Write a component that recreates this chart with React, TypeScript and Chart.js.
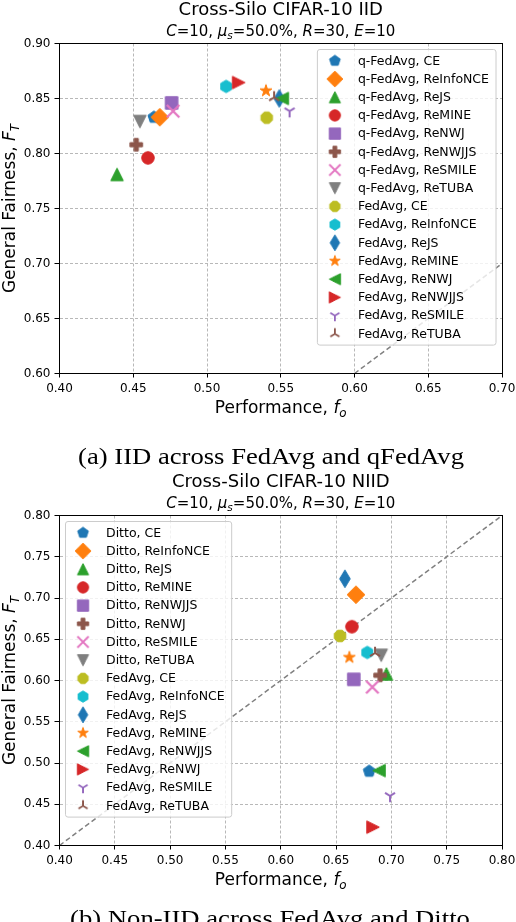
import React, { useEffect, useRef } from 'react';
import { Chart, registerables } from 'chart.js';

Chart.register(...registerables);

const SANS = '"DejaVu Sans", "Noto Sans", sans-serif';
const SERIF = '"Liberation Serif", "DejaVu Serif", serif';

// ---------------- data: panel (a) IID ----------------
const iidLabels = [
  'q-FedAvg, CE', 'q-FedAvg, ReInfoNCE', 'q-FedAvg, ReJS', 'q-FedAvg, ReMINE',
  'q-FedAvg, ReNWJ', 'q-FedAvg, ReNWJJS', 'q-FedAvg, ReSMILE', 'q-FedAvg, ReTUBA',
  'FedAvg, CE', 'FedAvg, ReInfoNCE', 'FedAvg, ReJS', 'FedAvg, ReMINE',
  'FedAvg, ReNWJ', 'FedAvg, ReNWJJS', 'FedAvg, ReSMILE', 'FedAvg, ReTUBA',
];
const iidPerformance = [0.464, 0.468, 0.439, 0.460, 0.476, 0.452, 0.477, 0.4545, 0.5405, 0.513, 0.549, 0.540, 0.551, 0.5215, 0.556, 0.5455];
const iidFairness = [0.833, 0.833, 0.781, 0.796, 0.846, 0.808, 0.8385, 0.829, 0.8325, 0.861, 0.850, 0.857, 0.850, 0.8645, 0.8385, 0.851];
const iidXTicks = [0.40, 0.45, 0.50, 0.55, 0.60, 0.65, 0.70];
const iidYTicks = [0.60, 0.65, 0.70, 0.75, 0.80, 0.85, 0.90];

// ---------------- data: panel (b) NIID ----------------
const niidLabels = [
  'Ditto, CE', 'Ditto, ReInfoNCE', 'Ditto, ReJS', 'Ditto, ReMINE',
  'Ditto, ReNWJJS', 'Ditto, ReNWJ', 'Ditto, ReSMILE', 'Ditto, ReTUBA',
  'FedAvg, CE', 'FedAvg, ReInfoNCE', 'FedAvg, ReJS', 'FedAvg, ReMINE',
  'FedAvg, ReNWJJS', 'FedAvg, ReNWJ', 'FedAvg, ReSMILE', 'FedAvg, ReTUBA',
];
const niidPerformance = [0.680, 0.668, 0.6955, 0.6643, 0.666, 0.6898, 0.6828, 0.6908, 0.6536, 0.6782, 0.658, 0.662, 0.6888, 0.6834, 0.6988, 0.6852];
const niidFairness = [0.490, 0.704, 0.608, 0.6652, 0.6014, 0.6063, 0.592, 0.6305, 0.654, 0.634, 0.7233, 0.628, 0.4908, 0.4222, 0.4601, 0.6334];
const niidXTicks = [0.40, 0.45, 0.50, 0.55, 0.60, 0.65, 0.70, 0.75, 0.80];
const niidYTicks = [0.40, 0.45, 0.50, 0.55, 0.60, 0.65, 0.70, 0.75, 0.80];

// marker shapes (matplotlib style codes) and colours, shared by both panels
const markerKinds = ['p', 'D', '^', 'o', 's', 'P', 'x', 'v', '8', 'h', 'd', '*', '<', '>', '1', '2'];
const markerColors = [
  '#1f77b4', '#ff7f0e', '#2ca02c', '#d62728', '#9467bd', '#8c564b', '#e377c2', '#7f7f7f',
  '#bcbd22', '#17becf', '#1f77b4', '#ff7f0e', '#2ca02c', '#d62728', '#9467bd', '#8c564b',
];

// ---------------- layout constants ----------------
const AREA_LEFT = 59.5;
const AREA_TOP = 43.5;
const AREA_BOTTOM = 373.5;
const AREA_RIGHT_PAD = 14;

function makeMarker(kind: string, color: string, s = 12.5): HTMLCanvasElement {
  const size = 26;
  const c = document.createElement('canvas');
  c.width = size;
  c.height = size;
  const ctx = c.getContext('2d')!;
  const cx = size / 2;
  const cy = size / 2;
  const r = s / 2;
  ctx.fillStyle = color;
  ctx.strokeStyle = color;
  ctx.lineWidth = 1;
  ctx.lineJoin = 'round';
  const poly = (pts: number[][]) => {
    ctx.beginPath();
    pts.forEach(([x, y], i) => (i ? ctx.lineTo(cx + x, cy - y) : ctx.moveTo(cx + x, cy - y)));
    ctx.closePath();
    ctx.fill();
    ctx.stroke();
  };
  const regular = (n: number, rad: number, startDeg: number) => {
    const pts: number[][] = [];
    for (let i = 0; i < n; i++) {
      const a = ((startDeg + (360 * i) / n) * Math.PI) / 180;
      pts.push([rad * Math.cos(a), rad * Math.sin(a)]);
    }
    return pts;
  };
  const lines = (segs: number[][], w: number) => {
    ctx.lineWidth = w;
    ctx.lineCap = 'butt';
    ctx.beginPath();
    segs.forEach(([x1, y1, x2, y2]) => {
      ctx.moveTo(cx + x1, cy - y1);
      ctx.lineTo(cx + x2, cy - y2);
    });
    ctx.stroke();
  };
  const d = r * Math.SQRT2;
  const u = r / 3;
  switch (kind) {
    case 'o':
      ctx.beginPath();
      ctx.arc(cx, cy, r, 0, Math.PI * 2);
      ctx.fill();
      ctx.stroke();
      break;
    case 'p':
      poly(regular(5, r, 90));
      break;
    case 'h':
      poly(regular(6, r, 90));
      break;
    case '8':
      poly(regular(8, r, 22.5));
      break;
    case 's':
      poly([[-r, -r], [r, -r], [r, r], [-r, r]]);
      break;
    case 'D':
      poly([[0, d], [d, 0], [0, -d], [-d, 0]]);
      break;
    case 'd':
      poly([[0, d], [0.6 * d, 0], [0, -d], [-0.6 * d, 0]]);
      break;
    case '^':
      poly([[0, r], [-r, -r], [r, -r]]);
      break;
    case 'v':
      poly([[0, -r], [-r, r], [r, r]]);
      break;
    case '<':
      poly([[-r, 0], [r, r], [r, -r]]);
      break;
    case '>':
      poly([[r, 0], [-r, r], [-r, -r]]);
      break;
    case '*': {
      const pts: number[][] = [];
      for (let i = 0; i < 10; i++) {
        const rad = i % 2 === 0 ? r : r * 0.381966;
        const a = ((90 + 36 * i) * Math.PI) / 180;
        pts.push([rad * Math.cos(a), rad * Math.sin(a)]);
      }
      poly(pts);
      break;
    }
    case 'P':
      poly([[-u, -3 * u], [u, -3 * u], [u, -u], [3 * u, -u], [3 * u, u], [u, u], [u, 3 * u], [-u, 3 * u], [-u, u], [-3 * u, u], [-3 * u, -u], [-u, -u]]);
      break;
    case 'x':
      lines([[-r, -r, r, r], [-r, r, r, -r]], 2.3);
      break;
    case '1':
      lines([[0, 0, 0, -r], [0, 0, 0.8 * r, 0.5 * r], [0, 0, -0.8 * r, 0.5 * r]], 2);
      break;
    case '2':
      lines([[0, 0, 0, r], [0, 0, 0.8 * r, -0.5 * r], [0, 0, -0.8 * r, -0.5 * r]], 2);
      break;
    default:
      break;
  }
  return c;
}

type Seg = { t: string; it?: boolean; sub?: boolean };

function drawRich(ctx: CanvasRenderingContext2D, segs: Seg[], size: number, cx: number, baseline: number) {
  const fontOf = (s: Seg) => `${s.it ? 'italic ' : ''}${s.sub ? size * 0.7 : size}px ${SANS}`;
  let total = 0;
  const widths = segs.map((s) => {
    ctx.font = fontOf(s);
    const w = ctx.measureText(s.t).width;
    total += w;
    return w;
  });
  let x = cx - total / 2;
  ctx.textAlign = 'left';
  ctx.textBaseline = 'alphabetic';
  segs.forEach((s, i) => {
    ctx.font = fontOf(s);
    ctx.fillText(s.t, x, baseline + (s.sub ? size * 0.22 : 0));
    x += widths[i];
  });
}

const subtitleSegs: Seg[] = [
  { t: 'C', it: true }, { t: '=10, ' }, { t: 'μ', it: true }, { t: 's', it: true, sub: true },
  { t: '=50.0%, ' }, { t: 'R', it: true }, { t: '=30, ' }, { t: 'E', it: true }, { t: '=10' },
];
const xLabelSegs: Seg[] = [{ t: 'Performance, ' }, { t: 'f', it: true }, { t: 'o', it: true, sub: true }];
const yLabelSegs: Seg[] = [{ t: 'General Fairness, ' }, { t: 'F', it: true }, { t: 'T', it: true, sub: true }];

type PanelSpec = {
  top: number;
  height: number;
  title: string;
  caption: string;
  captionBaseline: number;
  captionX: number;
  legendCorner: 'ur' | 'ul';
  labels: string[];
  perf: number[];
  fair: number[];
  xTicks: number[];
  yTicks: number[];
};

function figurePlugin(spec: PanelSpec, images: HTMLCanvasElement[]) {
  return {
    id: 'figureText',
    afterDraw(chart: any) {
      const { ctx, chartArea: a } = chart;
      const al = (v: number) => Math.round(v - 0.5) + 0.5;
      ctx.save();
      // spines
      ctx.setLineDash([]);
      ctx.strokeStyle = '#000';
      ctx.lineWidth = 1;
      ctx.strokeRect(al(a.left), al(a.top), al(a.right) - al(a.left), al(a.bottom) - al(a.top));

      // legend
      const fs = 12.5;
      ctx.font = `${fs}px ${SANS}`;
      const rowH = 18.2;
      const maxW = Math.max(...spec.labels.map((l) => ctx.measureText(l).width));
      const w = 40.5 + maxW + 7;
      const padTop = 11.3;
      const h = padTop * 2 + rowH * (spec.labels.length - 1);
      const inset = 6;
      const lx = spec.legendCorner === 'ur' ? a.right - inset - w : a.left + inset;
      const ly = a.top + inset;
      const rr = 2.5;
      ctx.beginPath();
      ctx.moveTo(lx + rr, ly);
      ctx.lineTo(lx + w - rr, ly);
      ctx.arcTo(lx + w, ly, lx + w, ly + rr, rr);
      ctx.lineTo(lx + w, ly + h - rr);
      ctx.arcTo(lx + w, ly + h, lx + w - rr, ly + h, rr);
      ctx.lineTo(lx + rr, ly + h);
      ctx.arcTo(lx, ly + h, lx, ly + h - rr, rr);
      ctx.lineTo(lx, ly + rr);
      ctx.arcTo(lx, ly, lx + rr, ly, rr);
      ctx.closePath();
      ctx.fillStyle = 'rgba(255,255,255,0.8)';
      ctx.fill();
      ctx.strokeStyle = '#cccccc';
      ctx.lineWidth = 1;
      ctx.stroke();
      ctx.fillStyle = '#000';
      ctx.textAlign = 'left';
      ctx.textBaseline = 'middle';
      spec.labels.forEach((lab, i) => {
        const y = ly + padTop + i * rowH;
        const img = images[i];
        const k = 0.9;
        ctx.drawImage(img, lx + 17.5 - (img.width * k) / 2, y - (img.height * k) / 2, img.width * k, img.height * k);
        ctx.font = `${fs}px ${SANS}`;
        ctx.fillText(lab, lx + 40.5, y + 0.5);
      });

      // titles
      const cxA = (a.left + a.right) / 2;
      ctx.fillStyle = '#000';
      ctx.font = `18px ${SANS}`;
      ctx.textAlign = 'center';
      ctx.textBaseline = 'alphabetic';
      ctx.fillText(spec.title, cxA, a.top - 28.2);
      drawRich(ctx, subtitleSegs, 15, cxA, a.top - 7.4);

      // axis labels
      drawRich(ctx, xLabelSegs, 17, cxA, a.bottom + 39.3);
      ctx.save();
      ctx.translate(a.left - 44.5, (a.top + a.bottom) / 2);
      ctx.rotate(-Math.PI / 2);
      drawRich(ctx, yLabelSegs, 17, 0, 0);
      ctx.restore();

      // caption
      ctx.save();
      ctx.translate(spec.captionX, spec.captionBaseline);
      ctx.scale(1.11, 1);
      ctx.font = `24px ${SERIF}`;
      ctx.textAlign = 'center';
      ctx.textBaseline = 'alphabetic';
      ctx.fillText(spec.caption, 0, 0);
      ctx.restore();

      ctx.restore();
    },
  };
}

function Panel({ spec }: { spec: PanelSpec }) {
  const ref = useRef<HTMLCanvasElement | null>(null);
  useEffect(() => {
    if (!ref.current) return;
    const images = markerKinds.map((k, i) => makeMarker(k, markerColors[i]));
    const n = spec.labels.length;
    const datasets: any[] = spec.labels.map((lab, i) => ({
      label: lab,
      data: [{ x: spec.perf[i], y: spec.fair[i] }],
      pointStyle: images[i],
      pointRadius: 6,
      pointHoverRadius: 6,
      order: 100 - i,
    }));
    const lo = Math.min(spec.xTicks[0], spec.yTicks[0]);
    const hi = Math.max(spec.xTicks[spec.xTicks.length - 1], spec.yTicks[spec.yTicks.length - 1]);
    datasets.push({
      label: 'y = x',
      data: [{ x: lo, y: lo }, { x: hi, y: hi }],
      showLine: true,
      pointRadius: 0,
      borderColor: '#808080',
      borderWidth: 1.5,
      borderDash: [5, 3],
      order: 1000,
    });
    const tickFont = { size: 12, family: SANS };
    const gridCommon = {
      color: '#b8b8b8',
      lineWidth: 1,
      tickColor: '#000',
      tickWidth: 1,
      tickBorderDash: [],
    };
    const H = spec.height;
    const chart = new Chart(ref.current, {
      type: 'scatter',
      data: { datasets },
      plugins: [figurePlugin(spec, images)],
      options: {
        responsive: false,
        animation: false,
        events: [],
        layout: { padding: { left: 0, top: AREA_TOP, right: AREA_RIGHT_PAD, bottom: 0 } },
        plugins: { legend: { display: false }, tooltip: { enabled: false } },
        scales: {
          x: {
            type: 'linear',
            min: spec.xTicks[0],
            max: spec.xTicks[spec.xTicks.length - 1],
            afterBuildTicks: (s: any) => {
              s.ticks = spec.xTicks.map((v) => ({ value: v }));
            },
            afterFit: (s: any) => {
              s.height = H - AREA_BOTTOM;
              s.paddingLeft = 0;
              s.paddingRight = 0;
              s.paddingTop = 0;
              s.paddingBottom = 0;
            },
            ticks: {
              callback: (v: any) => Number(v).toFixed(2),
              font: tickFont,
              color: '#000',
              padding: 4,
              maxRotation: 0,
              autoSkip: false,
            },
            grid: { ...gridCommon, tickLength: 4 },
            border: { display: true, color: '#000', width: 1, dash: [3, 2] },
          },
          y: {
            type: 'linear',
            min: spec.yTicks[0],
            max: spec.yTicks[spec.yTicks.length - 1],
            afterBuildTicks: (s: any) => {
              s.ticks = spec.yTicks.map((v) => ({ value: v }));
            },
            afterFit: (s: any) => {
              s.width = AREA_LEFT;
              s.paddingLeft = 0;
              s.paddingRight = 0;
              s.paddingTop = 0;
              s.paddingBottom = 0;
            },
            ticks: {
              callback: (v: any) => Number(v).toFixed(2),
              font: tickFont,
              color: '#000',
              padding: 4,
              autoSkip: false,
            },
            grid: { ...gridCommon, tickLength: 5 },
            border: { display: true, color: '#000', width: 1, dash: [3, 2] },
          },
        },
      } as any,
    });
    return () => chart.destroy();
  }, [spec]);
  return (
    <canvas
      ref={ref}
      width={516}
      height={spec.height}
      style={{ position: 'absolute', left: 0, top: spec.top, display: 'block' }}
    />
  );
}

const panelA: PanelSpec = {
  top: 0,
  height: 472,
  title: 'Cross-Silo CIFAR-10 IID',
  caption: '(a) IID across FedAvg and qFedAvg',
  captionBaseline: 464,
  captionX: 271,
  legendCorner: 'ur',
  labels: iidLabels,
  perf: iidPerformance,
  fair: iidFairness,
  xTicks: iidXTicks,
  yTicks: iidYTicks,
};

const panelB: PanelSpec = {
  top: 472,
  height: 450,
  title: 'Cross-Silo CIFAR-10 NIID',
  caption: '(b) Non-IID across FedAvg and Ditto',
  captionBaseline: 454,
  captionX: 270,
  legendCorner: 'ul',
  labels: niidLabels,
  perf: niidPerformance,
  fair: niidFairness,
  xTicks: niidXTicks,
  yTicks: niidYTicks,
};

export default function App() {
  return (
    <div style={{ position: 'absolute', left: 0, top: 0, width: 516, height: 922, background: '#fff', overflow: 'hidden' }}>
      <Panel spec={panelA} />
      <Panel spec={panelB} />
    </div>
  );
}
